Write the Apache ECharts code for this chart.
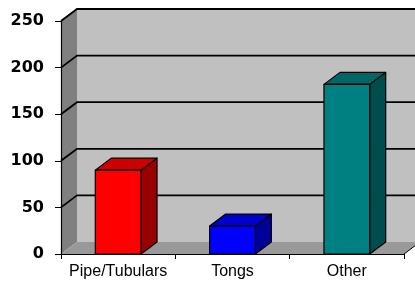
<!DOCTYPE html>
<html>
<head>
<meta charset="utf-8">
<script src="https://cdn.jsdelivr.net/npm/echarts@6/dist/echarts.min.js"></script>
<style>html,body{margin:0;padding:0;background:#fff;}#c{width:415px;height:284px;}</style>
</head>
<body>
<div id="c"></div>
<script>
const categories = ['Pipe/Tubulars', 'Tongs', 'Other'];
const values = [90, 30, 182];
const barColors = ['#FF0000', '#0000FF', '#008080'];
const gridValues = [50, 100, 150, 200, 250];
const yMin = 0, yMax = 250, yStep = 50;

const DX = 16, DY = -12, BAR_FRAC = 0.40;

function shade(hex, f) {
  const n = parseInt(hex.slice(1), 16);
  const r = Math.round(((n >> 16) & 255) * f), g = Math.round(((n >> 8) & 255) * f), b = Math.round((n & 255) * f);
  return 'rgb(' + r + ',' + g + ',' + b + ')';
}

const chart = echarts.init(document.getElementById('c'), null, {renderer: 'canvas'});

function renderWalls(params, api) {
  const cs = params.coordSys;
  const x0 = cs.x, x1 = cs.x + cs.width, yT = cs.y, yB = cs.y + cs.height;
  return {
    type: 'group',
    children: [
      {type: 'polygon', shape: {points: [[x0 + DX, yT + DY], [x1 + DX, yT + DY], [x1 + DX, yB + DY], [x0 + DX, yB + DY]]}, style: {fill: '#C0C0C0'}},
      {type: 'polygon', shape: {points: [[x0, yT], [x0 + DX, yT + DY], [x0 + DX, yB + DY], [x0, yB]]}, style: {fill: '#808080'}},
      {type: 'polygon', shape: {points: [[x0, yB], [x0 + DX, yB + DY], [x1 + DX, yB + DY], [x1, yB]]}, style: {fill: '#999999'}},
      {type: 'polyline', shape: {points: [[x1, yB], [x1 + DX, yB + DY]]}, style: {stroke: '#000', lineWidth: 1, fill: null}}
    ]
  };
}

function renderGrid(params, api) {
  const cs = params.coordSys;
  const x0 = cs.x, x1 = cs.x + cs.width;
  const y = api.coord([0, api.value(0)])[1];
  return {
    type: 'polyline',
    shape: {points: [[x0, y], [x0 + DX, y + DY], [x1 + DX, y + DY]]},
    style: {stroke: '#000', lineWidth: 1.8, fill: null}
  };
}

function renderBar(params, api) {
  const idx = api.value(0), v = api.value(1);
  const p0 = api.coord([idx, 0]), p1 = api.coord([idx, v]);
  const w = api.size([1, 0])[0] * BAR_FRAC;
  const xl = p0[0] - w / 2, xr = xl + w, yt = p1[1], yb = p0[1];
  const c = barColors[params.dataIndex];
  const st = {stroke: '#000', lineWidth: 1.2, lineJoin: 'round'};
  return {
    type: 'group',
    children: [
      {type: 'polygon', shape: {points: [[xr, yt], [xr + DX, yt + DY], [xr + DX, yb + DY], [xr, yb]]}, style: Object.assign({fill: shade(c, 0.6)}, st)},
      {type: 'polygon', shape: {points: [[xl, yt], [xl + DX, yt + DY], [xr + DX, yt + DY], [xr, yt]]}, style: Object.assign({fill: shade(c, 0.8)}, st)},
      {type: 'rect', shape: {x: xl, y: yt, width: w, height: yb - yt}, style: Object.assign({fill: c}, st)}
    ]
  };
}

chart.setOption({
  animation: false,
  grid: {left: 61, right: 11, top: 21, bottom: 30},
  xAxis: {
    type: 'category',
    data: categories,
    z: 10,
    axisLine: {lineStyle: {color: '#000', width: 1.2}},
    axisTick: {show: true, length: 5, lineStyle: {color: '#000'}},
    axisLabel: {interval: 0, color: '#000', fontFamily: 'Liberation Sans, Arial, sans-serif', fontSize: 16, margin: 10}
  },
  yAxis: {
    type: 'value',
    min: yMin, max: yMax, interval: yStep,
    z: 10,
    axisLine: {show: true, lineStyle: {color: '#000', width: 1.2}},
    axisTick: {show: true, length: 6, lineStyle: {color: '#000'}},
    splitLine: {show: false},
    axisLabel: {color: '#000', fontFamily: 'DejaVu Sans, sans-serif', fontWeight: 'bold', fontSize: 16, margin: 17}
  },
  series: [
    {type: 'custom', z: 1, renderItem: renderWalls, data: [[0]], silent: true},
    {type: 'custom', z: 2, renderItem: renderGrid, data: gridValues.map(v => [v]), silent: true},
    {type: 'custom', z: 3, renderItem: renderBar, data: values.map((v, i) => [i, v]), encode: {x: 0, y: 1}}
  ]
});
</script>
</body>
</html>
